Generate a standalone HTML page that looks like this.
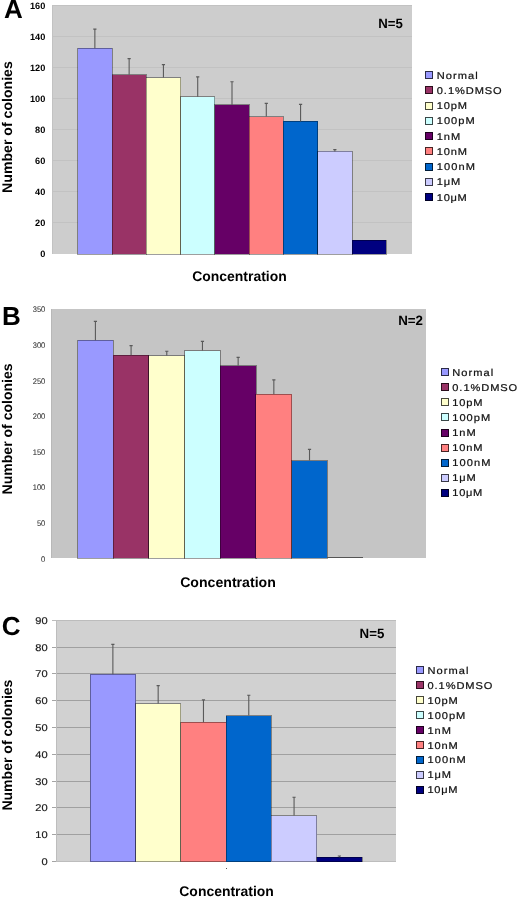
<!DOCTYPE html>
<html><head><meta charset="utf-8"><style>
html,body{margin:0;padding:0;background:#fff;}
body{width:520px;height:898px;overflow:hidden;}
svg{display:block;filter:blur(0.3px);font-family:"Liberation Sans", sans-serif;}
</style></head><body>
<svg width="520" height="898" viewBox="0 0 520 898" shape-rendering="crispEdges" text-rendering="geometricPrecision">
<rect x="52.00" y="5.50" width="360.00" height="248.50" fill="#CDCDCD"/>
<rect x="52.00" y="5.50" width="1.20" height="248.50" fill="#C2C2C2"/>
<line x1="52.00" y1="222.94" x2="412.00" y2="222.94" stroke="#C2C2C2" stroke-width="1"/>
<line x1="52.00" y1="191.88" x2="412.00" y2="191.88" stroke="#C2C2C2" stroke-width="1"/>
<line x1="52.00" y1="160.81" x2="412.00" y2="160.81" stroke="#C2C2C2" stroke-width="1"/>
<line x1="52.00" y1="129.75" x2="412.00" y2="129.75" stroke="#C2C2C2" stroke-width="1"/>
<line x1="52.00" y1="98.69" x2="412.00" y2="98.69" stroke="#C2C2C2" stroke-width="1"/>
<line x1="52.00" y1="67.62" x2="412.00" y2="67.62" stroke="#C2C2C2" stroke-width="1"/>
<line x1="52.00" y1="36.56" x2="412.00" y2="36.56" stroke="#C2C2C2" stroke-width="1"/>
<line x1="52.00" y1="5.50" x2="412.00" y2="5.50" stroke="#C2C2C2" stroke-width="1"/>
<rect x="77.71" y="48.20" width="34.29" height="205.80" fill="#9999FF" stroke="#000" stroke-opacity="0.38" stroke-width="1"/>
<path d="M94.86,48.20V29.10M93.26,29.10H96.46" stroke="#5a5a5a" stroke-width="1.1" fill="none" shape-rendering="auto"/>
<rect x="112.00" y="74.70" width="34.29" height="179.30" fill="#993366" stroke="#000" stroke-opacity="0.38" stroke-width="1"/>
<path d="M129.14,74.70V58.60M127.54,58.60H130.74" stroke="#5a5a5a" stroke-width="1.1" fill="none" shape-rendering="auto"/>
<rect x="146.29" y="77.50" width="34.29" height="176.50" fill="#FFFFCC" stroke="#000" stroke-opacity="0.38" stroke-width="1"/>
<path d="M163.43,77.50V64.60M161.83,64.60H165.03" stroke="#5a5a5a" stroke-width="1.1" fill="none" shape-rendering="auto"/>
<rect x="180.57" y="96.80" width="34.29" height="157.20" fill="#CCFFFF" stroke="#000" stroke-opacity="0.38" stroke-width="1"/>
<path d="M197.71,96.80V76.90M196.11,76.90H199.31" stroke="#5a5a5a" stroke-width="1.1" fill="none" shape-rendering="auto"/>
<rect x="214.86" y="104.90" width="34.29" height="149.10" fill="#660066" stroke="#000" stroke-opacity="0.38" stroke-width="1"/>
<path d="M232.00,104.90V81.80M230.40,81.80H233.60" stroke="#5a5a5a" stroke-width="1.1" fill="none" shape-rendering="auto"/>
<rect x="249.14" y="116.50" width="34.29" height="137.50" fill="#FF8080" stroke="#000" stroke-opacity="0.38" stroke-width="1"/>
<path d="M266.29,116.50V103.40M264.69,103.40H267.89" stroke="#5a5a5a" stroke-width="1.1" fill="none" shape-rendering="auto"/>
<rect x="283.43" y="121.40" width="34.29" height="132.60" fill="#0066CC" stroke="#000" stroke-opacity="0.38" stroke-width="1"/>
<path d="M300.57,121.40V104.40M298.97,104.40H302.17" stroke="#5a5a5a" stroke-width="1.1" fill="none" shape-rendering="auto"/>
<rect x="317.71" y="151.40" width="34.29" height="102.60" fill="#CCCCFF" stroke="#000" stroke-opacity="0.38" stroke-width="1"/>
<path d="M334.86,151.40V149.60M333.26,149.60H336.46" stroke="#5a5a5a" stroke-width="1.1" fill="none" shape-rendering="auto"/>
<rect x="352.00" y="240.00" width="34.29" height="14.00" fill="#000080" stroke="#000" stroke-opacity="0.38" stroke-width="1"/>
<text x="0" y="0" font-size="9.2" font-weight="bold" text-anchor="end" fill="#000" stroke="#000" stroke-width="0" transform="translate(45.30,257.30) scale(1,1)">0</text>
<text x="0" y="0" font-size="9.2" font-weight="bold" text-anchor="end" fill="#000" stroke="#000" stroke-width="0" transform="translate(45.30,226.24) scale(1,1)">20</text>
<text x="0" y="0" font-size="9.2" font-weight="bold" text-anchor="end" fill="#000" stroke="#000" stroke-width="0" transform="translate(45.30,195.18) scale(1,1)">40</text>
<text x="0" y="0" font-size="9.2" font-weight="bold" text-anchor="end" fill="#000" stroke="#000" stroke-width="0" transform="translate(45.30,164.11) scale(1,1)">60</text>
<text x="0" y="0" font-size="9.2" font-weight="bold" text-anchor="end" fill="#000" stroke="#000" stroke-width="0" transform="translate(45.30,133.05) scale(1,1)">80</text>
<text x="0" y="0" font-size="9.2" font-weight="bold" text-anchor="end" fill="#000" stroke="#000" stroke-width="0" transform="translate(45.30,101.99) scale(1,1)">100</text>
<text x="0" y="0" font-size="9.2" font-weight="bold" text-anchor="end" fill="#000" stroke="#000" stroke-width="0" transform="translate(45.30,70.92) scale(1,1)">120</text>
<text x="0" y="0" font-size="9.2" font-weight="bold" text-anchor="end" fill="#000" stroke="#000" stroke-width="0" transform="translate(45.30,39.86) scale(1,1)">140</text>
<text x="0" y="0" font-size="9.2" font-weight="bold" text-anchor="end" fill="#000" stroke="#000" stroke-width="0" transform="translate(45.30,8.80) scale(1,1)">160</text>
<text x="378.30" y="28.20" font-size="13.5" font-weight="bold" text-anchor="start" fill="#000" textLength="24.6" lengthAdjust="spacingAndGlyphs">N=5</text>
<rect x="425" y="71" width="8" height="8" fill="#9999FF"/>
<rect x="425" y="71" width="8" height="8" fill="#000" fill-opacity="0.72"/>
<rect x="426" y="72" width="6" height="6" fill="#9999FF"/>
<text x="0" y="0" font-size="9.9" fill="#111" stroke="#111" stroke-width="0.22" transform="translate(436.80,78.50) scale(1.12,1)" textLength="36.52" lengthAdjust="spacing">Normal</text>
<rect x="425" y="86" width="8" height="8" fill="#993366"/>
<rect x="425" y="86" width="8" height="8" fill="#000" fill-opacity="0.72"/>
<rect x="426" y="87" width="6" height="6" fill="#993366"/>
<text x="0" y="0" font-size="9.9" fill="#111" stroke="#111" stroke-width="0.22" transform="translate(436.80,93.78) scale(1.12,1)" textLength="57.95" lengthAdjust="spacing">0.1%DMSO</text>
<rect x="425" y="102" width="8" height="8" fill="#FFFFCC"/>
<rect x="425" y="102" width="8" height="8" fill="#000" fill-opacity="0.72"/>
<rect x="426" y="103" width="6" height="6" fill="#FFFFCC"/>
<text x="0" y="0" font-size="9.9" fill="#111" stroke="#111" stroke-width="0.22" transform="translate(436.80,109.06) scale(1.12,1)" textLength="26.96" lengthAdjust="spacing">10pM</text>
<rect x="425" y="117" width="8" height="8" fill="#CCFFFF"/>
<rect x="425" y="117" width="8" height="8" fill="#000" fill-opacity="0.72"/>
<rect x="426" y="118" width="6" height="6" fill="#CCFFFF"/>
<text x="0" y="0" font-size="9.9" fill="#111" stroke="#111" stroke-width="0.22" transform="translate(436.80,124.34) scale(1.12,1)" textLength="33.75" lengthAdjust="spacing">100pM</text>
<rect x="425" y="132" width="8" height="8" fill="#660066"/>
<rect x="425" y="132" width="8" height="8" fill="#000" fill-opacity="0.72"/>
<rect x="426" y="133" width="6" height="6" fill="#660066"/>
<text x="0" y="0" font-size="9.9" fill="#111" stroke="#111" stroke-width="0.22" transform="translate(436.80,139.62) scale(1.12,1)" textLength="20.89" lengthAdjust="spacing">1nM</text>
<rect x="425" y="147" width="8" height="8" fill="#FF8080"/>
<rect x="425" y="147" width="8" height="8" fill="#000" fill-opacity="0.72"/>
<rect x="426" y="148" width="6" height="6" fill="#FF8080"/>
<text x="0" y="0" font-size="9.9" fill="#111" stroke="#111" stroke-width="0.22" transform="translate(436.80,154.90) scale(1.12,1)" textLength="26.96" lengthAdjust="spacing">10nM</text>
<rect x="425" y="163" width="8" height="8" fill="#0066CC"/>
<rect x="425" y="163" width="8" height="8" fill="#000" fill-opacity="0.72"/>
<rect x="426" y="164" width="6" height="6" fill="#0066CC"/>
<text x="0" y="0" font-size="9.9" fill="#111" stroke="#111" stroke-width="0.22" transform="translate(436.80,170.18) scale(1.12,1)" textLength="34.02" lengthAdjust="spacing">100nM</text>
<rect x="425" y="178" width="8" height="8" fill="#CCCCFF"/>
<rect x="425" y="178" width="8" height="8" fill="#000" fill-opacity="0.72"/>
<rect x="426" y="179" width="6" height="6" fill="#CCCCFF"/>
<text x="0" y="0" font-size="9.9" fill="#111" stroke="#111" stroke-width="0.22" transform="translate(436.80,185.46) scale(1.12,1)" textLength="20.98" lengthAdjust="spacing">1μM</text>
<rect x="425" y="193" width="8" height="8" fill="#000080"/>
<rect x="425" y="193" width="8" height="8" fill="#000" fill-opacity="0.72"/>
<rect x="426" y="194" width="6" height="6" fill="#000080"/>
<text x="0" y="0" font-size="9.9" fill="#111" stroke="#111" stroke-width="0.22" transform="translate(436.80,200.74) scale(1.12,1)" textLength="26.79" lengthAdjust="spacing">10μM</text>
<text x="192.20" y="281.20" font-size="14" font-weight="bold" text-anchor="start" fill="#000" textLength="94.5" lengthAdjust="spacingAndGlyphs">Concentration</text>
<text x="0" y="0" font-size="14" font-weight="bold" text-anchor="middle" fill="#000" transform="translate(12.4,127.05) rotate(-90)" textLength="131.7" lengthAdjust="spacingAndGlyphs">Number of colonies</text>
<text x="3.90" y="17.90" font-size="26" font-weight="bold" text-anchor="start" fill="#000" >A</text>
<rect x="50.80" y="308.60" width="374.70" height="249.40" fill="#C5C5C5"/>
<rect x="50.80" y="308.60" width="1.20" height="249.40" fill="#B8B8B8"/>
<rect x="77.56" y="340.20" width="35.69" height="217.80" fill="#9999FF" stroke="#000" stroke-opacity="0.38" stroke-width="1"/>
<path d="M95.41,340.20V321.40M93.81,321.40H97.01" stroke="#5a5a5a" stroke-width="1.1" fill="none" shape-rendering="auto"/>
<rect x="113.25" y="355.20" width="35.69" height="202.80" fill="#993366" stroke="#000" stroke-opacity="0.38" stroke-width="1"/>
<path d="M131.09,355.20V345.60M129.49,345.60H132.69" stroke="#5a5a5a" stroke-width="1.1" fill="none" shape-rendering="auto"/>
<rect x="148.94" y="355.50" width="35.69" height="202.50" fill="#FFFFCC" stroke="#000" stroke-opacity="0.38" stroke-width="1"/>
<path d="M166.78,355.50V351.20M165.18,351.20H168.38" stroke="#5a5a5a" stroke-width="1.1" fill="none" shape-rendering="auto"/>
<rect x="184.62" y="350.60" width="35.69" height="207.40" fill="#CCFFFF" stroke="#000" stroke-opacity="0.38" stroke-width="1"/>
<path d="M202.46,350.60V341.40M200.86,341.40H204.06" stroke="#5a5a5a" stroke-width="1.1" fill="none" shape-rendering="auto"/>
<rect x="220.31" y="365.75" width="35.69" height="192.25" fill="#660066" stroke="#000" stroke-opacity="0.38" stroke-width="1"/>
<path d="M238.15,365.75V357.35M236.55,357.35H239.75" stroke="#5a5a5a" stroke-width="1.1" fill="none" shape-rendering="auto"/>
<rect x="255.99" y="394.25" width="35.69" height="163.75" fill="#FF8080" stroke="#000" stroke-opacity="0.38" stroke-width="1"/>
<path d="M273.84,394.25V379.85M272.24,379.85H275.44" stroke="#5a5a5a" stroke-width="1.1" fill="none" shape-rendering="auto"/>
<rect x="291.68" y="460.50" width="35.69" height="97.50" fill="#0066CC" stroke="#000" stroke-opacity="0.38" stroke-width="1"/>
<path d="M309.52,460.50V449.35M307.92,449.35H311.12" stroke="#5a5a5a" stroke-width="1.1" fill="none" shape-rendering="auto"/>
<rect x="327.36" y="556.70" width="35.69" height="1.3" fill="#555"/>
<text x="0" y="0" font-size="8.1" font-weight="normal" text-anchor="end" fill="#333" stroke="#333" stroke-width="0.08" transform="translate(45.30,561.70) scale(0.93,1)">0</text>
<text x="0" y="0" font-size="8.1" font-weight="normal" text-anchor="end" fill="#333" stroke="#333" stroke-width="0.08" transform="translate(45.30,526.07) scale(0.93,1)">50</text>
<text x="0" y="0" font-size="8.1" font-weight="normal" text-anchor="end" fill="#333" stroke="#333" stroke-width="0.08" transform="translate(45.30,490.44) scale(0.93,1)">100</text>
<text x="0" y="0" font-size="8.1" font-weight="normal" text-anchor="end" fill="#333" stroke="#333" stroke-width="0.08" transform="translate(45.30,454.81) scale(0.93,1)">150</text>
<text x="0" y="0" font-size="8.1" font-weight="normal" text-anchor="end" fill="#333" stroke="#333" stroke-width="0.08" transform="translate(45.30,419.19) scale(0.93,1)">200</text>
<text x="0" y="0" font-size="8.1" font-weight="normal" text-anchor="end" fill="#333" stroke="#333" stroke-width="0.08" transform="translate(45.30,383.56) scale(0.93,1)">250</text>
<text x="0" y="0" font-size="8.1" font-weight="normal" text-anchor="end" fill="#333" stroke="#333" stroke-width="0.08" transform="translate(45.30,347.93) scale(0.93,1)">300</text>
<text x="0" y="0" font-size="8.1" font-weight="normal" text-anchor="end" fill="#333" stroke="#333" stroke-width="0.08" transform="translate(45.30,312.30) scale(0.93,1)">350</text>
<text x="398.20" y="324.70" font-size="13.5" font-weight="bold" text-anchor="start" fill="#000" textLength="24.8" lengthAdjust="spacingAndGlyphs">N=2</text>
<rect x="441" y="368" width="8" height="8" fill="#9999FF"/>
<rect x="441" y="368" width="8" height="8" fill="#000" fill-opacity="0.72"/>
<rect x="442" y="369" width="6" height="6" fill="#9999FF"/>
<text x="0" y="0" font-size="9.9" fill="#111" stroke="#111" stroke-width="0.22" transform="translate(452.30,375.60) scale(1.12,1)" textLength="36.52" lengthAdjust="spacing">Normal</text>
<rect x="441" y="383" width="8" height="8" fill="#993366"/>
<rect x="441" y="383" width="8" height="8" fill="#000" fill-opacity="0.72"/>
<rect x="442" y="384" width="6" height="6" fill="#993366"/>
<text x="0" y="0" font-size="9.9" fill="#111" stroke="#111" stroke-width="0.22" transform="translate(452.30,390.68) scale(1.12,1)" textLength="57.95" lengthAdjust="spacing">0.1%DMSO</text>
<rect x="441" y="398" width="8" height="8" fill="#FFFFCC"/>
<rect x="441" y="398" width="8" height="8" fill="#000" fill-opacity="0.72"/>
<rect x="442" y="399" width="6" height="6" fill="#FFFFCC"/>
<text x="0" y="0" font-size="9.9" fill="#111" stroke="#111" stroke-width="0.22" transform="translate(452.30,405.76) scale(1.12,1)" textLength="26.96" lengthAdjust="spacing">10pM</text>
<rect x="441" y="413" width="8" height="8" fill="#CCFFFF"/>
<rect x="441" y="413" width="8" height="8" fill="#000" fill-opacity="0.72"/>
<rect x="442" y="414" width="6" height="6" fill="#CCFFFF"/>
<text x="0" y="0" font-size="9.9" fill="#111" stroke="#111" stroke-width="0.22" transform="translate(452.30,420.84) scale(1.12,1)" textLength="33.75" lengthAdjust="spacing">100pM</text>
<rect x="441" y="429" width="8" height="8" fill="#660066"/>
<rect x="441" y="429" width="8" height="8" fill="#000" fill-opacity="0.72"/>
<rect x="442" y="430" width="6" height="6" fill="#660066"/>
<text x="0" y="0" font-size="9.9" fill="#111" stroke="#111" stroke-width="0.22" transform="translate(452.30,435.92) scale(1.12,1)" textLength="20.89" lengthAdjust="spacing">1nM</text>
<rect x="441" y="444" width="8" height="8" fill="#FF8080"/>
<rect x="441" y="444" width="8" height="8" fill="#000" fill-opacity="0.72"/>
<rect x="442" y="445" width="6" height="6" fill="#FF8080"/>
<text x="0" y="0" font-size="9.9" fill="#111" stroke="#111" stroke-width="0.22" transform="translate(452.30,451.00) scale(1.12,1)" textLength="26.96" lengthAdjust="spacing">10nM</text>
<rect x="441" y="459" width="8" height="8" fill="#0066CC"/>
<rect x="441" y="459" width="8" height="8" fill="#000" fill-opacity="0.72"/>
<rect x="442" y="460" width="6" height="6" fill="#0066CC"/>
<text x="0" y="0" font-size="9.9" fill="#111" stroke="#111" stroke-width="0.22" transform="translate(452.30,466.08) scale(1.12,1)" textLength="34.02" lengthAdjust="spacing">100nM</text>
<rect x="441" y="474" width="8" height="8" fill="#CCCCFF"/>
<rect x="441" y="474" width="8" height="8" fill="#000" fill-opacity="0.72"/>
<rect x="442" y="475" width="6" height="6" fill="#CCCCFF"/>
<text x="0" y="0" font-size="9.9" fill="#111" stroke="#111" stroke-width="0.22" transform="translate(452.30,481.16) scale(1.12,1)" textLength="20.98" lengthAdjust="spacing">1μM</text>
<rect x="441" y="489" width="8" height="8" fill="#000080"/>
<rect x="441" y="489" width="8" height="8" fill="#000" fill-opacity="0.72"/>
<rect x="442" y="490" width="6" height="6" fill="#000080"/>
<text x="0" y="0" font-size="9.9" fill="#111" stroke="#111" stroke-width="0.22" transform="translate(452.30,496.24) scale(1.12,1)" textLength="26.79" lengthAdjust="spacing">10μM</text>
<text x="180.20" y="587.20" font-size="14" font-weight="bold" text-anchor="start" fill="#000" textLength="95.6" lengthAdjust="spacingAndGlyphs">Concentration</text>
<text x="0" y="0" font-size="14" font-weight="bold" text-anchor="middle" fill="#000" transform="translate(12.4,428.90) rotate(-90)" textLength="131.0" lengthAdjust="spacingAndGlyphs">Number of colonies</text>
<text x="2.00" y="325.30" font-size="26" font-weight="bold" text-anchor="start" fill="#000" >B</text>
<rect x="56.25" y="620.20" width="339.75" height="241.30" fill="#D1D1D1"/>
<line x1="56.25" y1="834.69" x2="396.00" y2="834.69" stroke="#A0A0A0" stroke-width="1"/>
<line x1="56.25" y1="807.88" x2="396.00" y2="807.88" stroke="#A0A0A0" stroke-width="1"/>
<line x1="56.25" y1="781.07" x2="396.00" y2="781.07" stroke="#A0A0A0" stroke-width="1"/>
<line x1="56.25" y1="754.26" x2="396.00" y2="754.26" stroke="#A0A0A0" stroke-width="1"/>
<line x1="56.25" y1="727.44" x2="396.00" y2="727.44" stroke="#A0A0A0" stroke-width="1"/>
<line x1="56.25" y1="700.63" x2="396.00" y2="700.63" stroke="#A0A0A0" stroke-width="1"/>
<line x1="56.25" y1="673.82" x2="396.00" y2="673.82" stroke="#A0A0A0" stroke-width="1"/>
<line x1="56.25" y1="647.01" x2="396.00" y2="647.01" stroke="#A0A0A0" stroke-width="1"/>
<line x1="56.25" y1="620.20" x2="396.00" y2="620.20" stroke="#BCBCBC" stroke-width="1"/>
<line x1="56.25" y1="620.20" x2="56.25" y2="861.50" stroke="#BDBDBD" stroke-width="1"/>
<line x1="56.25" y1="861.50" x2="396.00" y2="861.50" stroke="#BDBDBD" stroke-width="1"/>
<line x1="52.25" y1="861.50" x2="56.25" y2="861.50" stroke="#A4A4A4" stroke-width="1"/>
<line x1="52.25" y1="834.69" x2="56.25" y2="834.69" stroke="#A4A4A4" stroke-width="1"/>
<line x1="52.25" y1="807.88" x2="56.25" y2="807.88" stroke="#A4A4A4" stroke-width="1"/>
<line x1="52.25" y1="781.07" x2="56.25" y2="781.07" stroke="#A4A4A4" stroke-width="1"/>
<line x1="52.25" y1="754.26" x2="56.25" y2="754.26" stroke="#A4A4A4" stroke-width="1"/>
<line x1="52.25" y1="727.44" x2="56.25" y2="727.44" stroke="#A4A4A4" stroke-width="1"/>
<line x1="52.25" y1="700.63" x2="56.25" y2="700.63" stroke="#A4A4A4" stroke-width="1"/>
<line x1="52.25" y1="673.82" x2="56.25" y2="673.82" stroke="#A4A4A4" stroke-width="1"/>
<line x1="52.25" y1="647.01" x2="56.25" y2="647.01" stroke="#A4A4A4" stroke-width="1"/>
<line x1="52.25" y1="620.20" x2="56.25" y2="620.20" stroke="#BCBCBC" stroke-width="1"/>
<rect x="90.22" y="674.20" width="45.30" height="187.30" fill="#9999FF" stroke="#000" stroke-opacity="0.38" stroke-width="1"/>
<path d="M112.88,674.20V644.40M111.28,644.40H114.47" stroke="#5a5a5a" stroke-width="1.1" fill="none" shape-rendering="auto"/>
<rect x="135.52" y="703.50" width="45.30" height="158.00" fill="#FFFFCC" stroke="#000" stroke-opacity="0.38" stroke-width="1"/>
<path d="M158.17,703.50V685.60M156.57,685.60H159.77" stroke="#5a5a5a" stroke-width="1.1" fill="none" shape-rendering="auto"/>
<rect x="180.82" y="722.30" width="45.30" height="139.20" fill="#FF8080" stroke="#000" stroke-opacity="0.38" stroke-width="1"/>
<path d="M203.47,722.30V699.85M201.88,699.85H205.07" stroke="#5a5a5a" stroke-width="1.1" fill="none" shape-rendering="auto"/>
<rect x="226.12" y="715.50" width="45.30" height="146.00" fill="#0066CC" stroke="#000" stroke-opacity="0.38" stroke-width="1"/>
<path d="M248.77,715.50V695.20M247.17,695.20H250.37" stroke="#5a5a5a" stroke-width="1.1" fill="none" shape-rendering="auto"/>
<rect x="271.42" y="815.50" width="45.30" height="46.00" fill="#CCCCFF" stroke="#000" stroke-opacity="0.38" stroke-width="1"/>
<path d="M294.07,815.50V797.30M292.47,797.30H295.67" stroke="#5a5a5a" stroke-width="1.1" fill="none" shape-rendering="auto"/>
<rect x="316.73" y="857.30" width="45.30" height="4.20" fill="#000080" stroke="#000" stroke-opacity="0.38" stroke-width="1"/>
<path d="M339.38,857.30V856.00M337.77,856.00H340.98" stroke="#5a5a5a" stroke-width="1.1" fill="none" shape-rendering="auto"/>
<text x="0" y="0" font-size="9.8" font-weight="normal" text-anchor="end" fill="#1a1a1a" stroke="#1a1a1a" stroke-width="0.18" transform="translate(47.60,865.10) scale(1.13,1)">0</text>
<text x="0" y="0" font-size="9.8" font-weight="normal" text-anchor="end" fill="#1a1a1a" stroke="#1a1a1a" stroke-width="0.18" transform="translate(47.60,838.29) scale(1.13,1)">10</text>
<text x="0" y="0" font-size="9.8" font-weight="normal" text-anchor="end" fill="#1a1a1a" stroke="#1a1a1a" stroke-width="0.18" transform="translate(47.60,811.48) scale(1.13,1)">20</text>
<text x="0" y="0" font-size="9.8" font-weight="normal" text-anchor="end" fill="#1a1a1a" stroke="#1a1a1a" stroke-width="0.18" transform="translate(47.60,784.67) scale(1.13,1)">30</text>
<text x="0" y="0" font-size="9.8" font-weight="normal" text-anchor="end" fill="#1a1a1a" stroke="#1a1a1a" stroke-width="0.18" transform="translate(47.60,757.86) scale(1.13,1)">40</text>
<text x="0" y="0" font-size="9.8" font-weight="normal" text-anchor="end" fill="#1a1a1a" stroke="#1a1a1a" stroke-width="0.18" transform="translate(47.60,731.04) scale(1.13,1)">50</text>
<text x="0" y="0" font-size="9.8" font-weight="normal" text-anchor="end" fill="#1a1a1a" stroke="#1a1a1a" stroke-width="0.18" transform="translate(47.60,704.23) scale(1.13,1)">60</text>
<text x="0" y="0" font-size="9.8" font-weight="normal" text-anchor="end" fill="#1a1a1a" stroke="#1a1a1a" stroke-width="0.18" transform="translate(47.60,677.42) scale(1.13,1)">70</text>
<text x="0" y="0" font-size="9.8" font-weight="normal" text-anchor="end" fill="#1a1a1a" stroke="#1a1a1a" stroke-width="0.18" transform="translate(47.60,650.61) scale(1.13,1)">80</text>
<text x="0" y="0" font-size="9.8" font-weight="normal" text-anchor="end" fill="#1a1a1a" stroke="#1a1a1a" stroke-width="0.18" transform="translate(47.60,623.80) scale(1.13,1)">90</text>
<text x="359.60" y="637.80" font-size="13.5" font-weight="bold" text-anchor="start" fill="#000" textLength="24.8" lengthAdjust="spacingAndGlyphs">N=5</text>
<rect x="416" y="666" width="8" height="8" fill="#9999FF"/>
<rect x="416" y="666" width="8" height="8" fill="#000" fill-opacity="0.72"/>
<rect x="417" y="667" width="6" height="6" fill="#9999FF"/>
<text x="0" y="0" font-size="9.9" fill="#111" stroke="#111" stroke-width="0.22" transform="translate(427.50,673.60) scale(1.12,1)" textLength="36.52" lengthAdjust="spacing">Normal</text>
<rect x="416" y="681" width="8" height="8" fill="#993366"/>
<rect x="416" y="681" width="8" height="8" fill="#000" fill-opacity="0.72"/>
<rect x="417" y="682" width="6" height="6" fill="#993366"/>
<text x="0" y="0" font-size="9.9" fill="#111" stroke="#111" stroke-width="0.22" transform="translate(427.50,688.58) scale(1.12,1)" textLength="57.95" lengthAdjust="spacing">0.1%DMSO</text>
<rect x="416" y="696" width="8" height="8" fill="#FFFFCC"/>
<rect x="416" y="696" width="8" height="8" fill="#000" fill-opacity="0.72"/>
<rect x="417" y="697" width="6" height="6" fill="#FFFFCC"/>
<text x="0" y="0" font-size="9.9" fill="#111" stroke="#111" stroke-width="0.22" transform="translate(427.50,703.56) scale(1.12,1)" textLength="26.96" lengthAdjust="spacing">10pM</text>
<rect x="416" y="711" width="8" height="8" fill="#CCFFFF"/>
<rect x="416" y="711" width="8" height="8" fill="#000" fill-opacity="0.72"/>
<rect x="417" y="712" width="6" height="6" fill="#CCFFFF"/>
<text x="0" y="0" font-size="9.9" fill="#111" stroke="#111" stroke-width="0.22" transform="translate(427.50,718.54) scale(1.12,1)" textLength="33.75" lengthAdjust="spacing">100pM</text>
<rect x="416" y="726" width="8" height="8" fill="#660066"/>
<rect x="416" y="726" width="8" height="8" fill="#000" fill-opacity="0.72"/>
<rect x="417" y="727" width="6" height="6" fill="#660066"/>
<text x="0" y="0" font-size="9.9" fill="#111" stroke="#111" stroke-width="0.22" transform="translate(427.50,733.52) scale(1.12,1)" textLength="20.89" lengthAdjust="spacing">1nM</text>
<rect x="416" y="741" width="8" height="8" fill="#FF8080"/>
<rect x="416" y="741" width="8" height="8" fill="#000" fill-opacity="0.72"/>
<rect x="417" y="742" width="6" height="6" fill="#FF8080"/>
<text x="0" y="0" font-size="9.9" fill="#111" stroke="#111" stroke-width="0.22" transform="translate(427.50,748.50) scale(1.12,1)" textLength="26.96" lengthAdjust="spacing">10nM</text>
<rect x="416" y="756" width="8" height="8" fill="#0066CC"/>
<rect x="416" y="756" width="8" height="8" fill="#000" fill-opacity="0.72"/>
<rect x="417" y="757" width="6" height="6" fill="#0066CC"/>
<text x="0" y="0" font-size="9.9" fill="#111" stroke="#111" stroke-width="0.22" transform="translate(427.50,763.48) scale(1.12,1)" textLength="34.02" lengthAdjust="spacing">100nM</text>
<rect x="416" y="771" width="8" height="8" fill="#CCCCFF"/>
<rect x="416" y="771" width="8" height="8" fill="#000" fill-opacity="0.72"/>
<rect x="417" y="772" width="6" height="6" fill="#CCCCFF"/>
<text x="0" y="0" font-size="9.9" fill="#111" stroke="#111" stroke-width="0.22" transform="translate(427.50,778.46) scale(1.12,1)" textLength="20.98" lengthAdjust="spacing">1μM</text>
<rect x="416" y="786" width="8" height="8" fill="#000080"/>
<rect x="416" y="786" width="8" height="8" fill="#000" fill-opacity="0.72"/>
<rect x="417" y="787" width="6" height="6" fill="#000080"/>
<text x="0" y="0" font-size="9.9" fill="#111" stroke="#111" stroke-width="0.22" transform="translate(427.50,793.44) scale(1.12,1)" textLength="26.79" lengthAdjust="spacing">10μM</text>
<text x="179.30" y="895.60" font-size="14" font-weight="bold" text-anchor="start" fill="#000" textLength="94.5" lengthAdjust="spacingAndGlyphs">Concentration</text>
<text x="0" y="0" font-size="14" font-weight="bold" text-anchor="middle" fill="#000" transform="translate(12.4,745.10) rotate(-90)" textLength="131.0" lengthAdjust="spacingAndGlyphs">Number of colonies</text>
<text x="1.80" y="634.60" font-size="26" font-weight="bold" text-anchor="start" fill="#000" >C</text>
<rect x="225.80" y="867.50" width="1.00" height="1.00" fill="#555"/>
</svg>
</body></html>
